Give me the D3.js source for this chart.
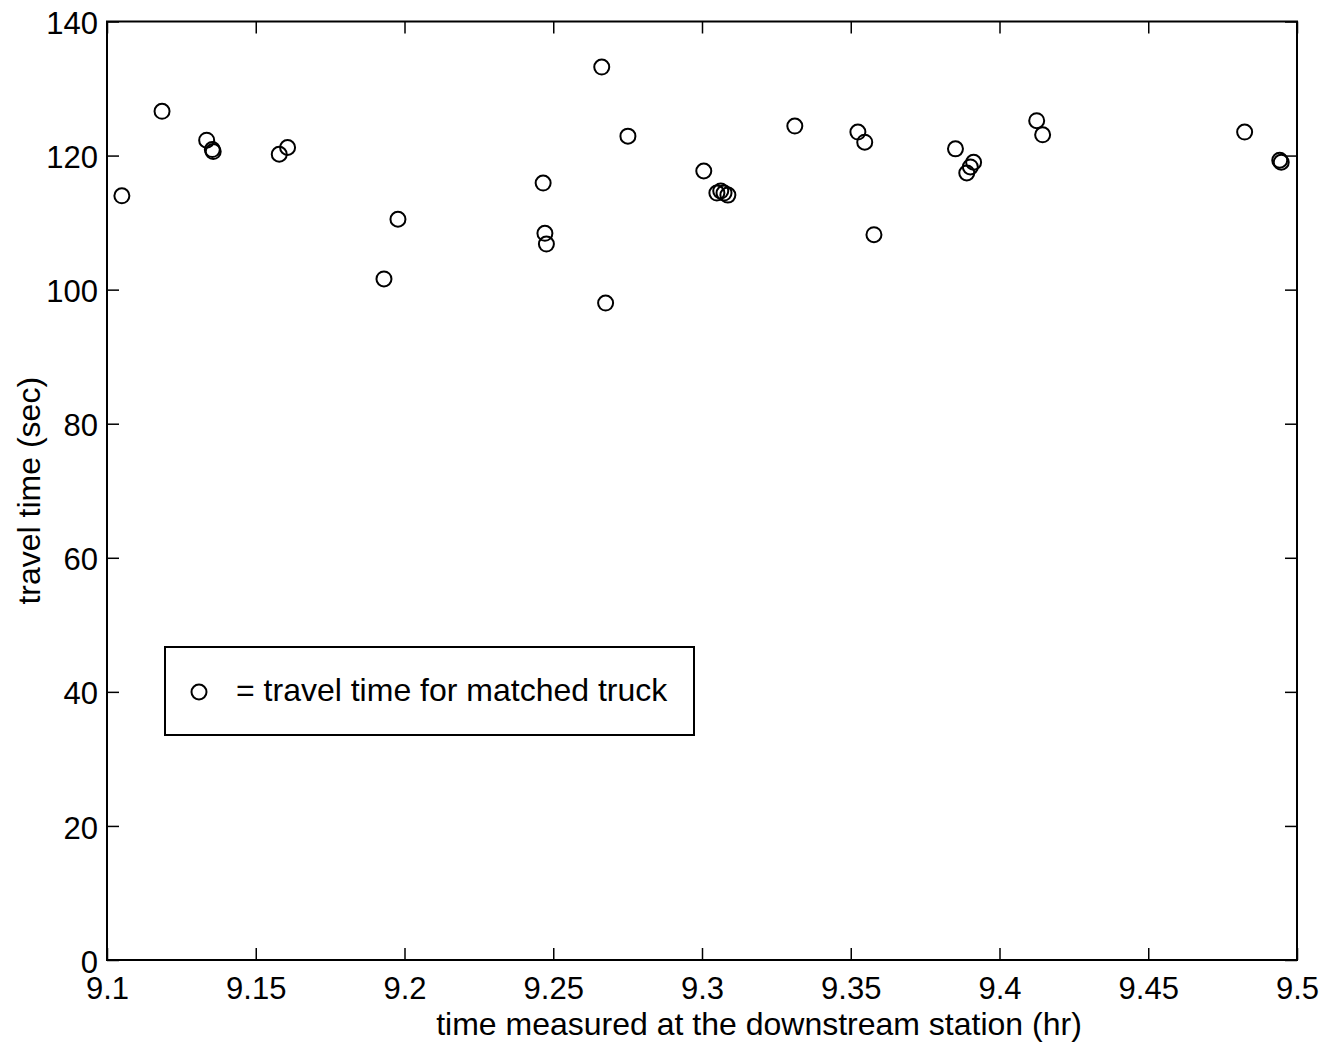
<!DOCTYPE html>
<html>
<head>
<meta charset="utf-8">
<script src="https://cdn.jsdelivr.net/npm/d3@7/dist/d3.min.js"></script>
<style>
  html, body { margin: 0; padding: 0; background: #fff; }
  svg { display: block; }
  text { font-family: "Liberation Sans", Arial, Helvetica, sans-serif; fill: #000; }
</style>
</head>
<body>
<svg id="chart" width="1334" height="1044"></svg>
<script>
const timeHr = [9.1050, 9.1185, 9.1335, 9.1354, 9.1357, 9.1579, 9.1607, 9.1931, 9.1978,
  9.2466, 9.2472, 9.2477, 9.2663, 9.2676, 9.2751, 9.3006, 9.3050, 9.3063, 9.3074, 9.3087,
  9.3312, 9.3524, 9.3547, 9.3578, 9.3852, 9.3890, 9.3902, 9.3913, 9.4125, 9.4145,
  9.4824, 9.4942, 9.4947];
const travelSec = [114.0, 126.6, 122.3, 120.9, 120.6, 120.2, 121.2, 101.6, 110.5,
  115.9, 108.4, 106.8, 133.2, 98.0, 122.9, 117.7, 114.4, 114.7, 114.4, 114.1,
  124.4, 123.5, 122.0, 108.2, 121.0, 117.4, 118.3, 119.0, 125.2, 123.1,
  123.5, 119.3, 119.0];
const xTicks = [9.1, 9.15, 9.2, 9.25, 9.3, 9.35, 9.4, 9.45, 9.5];
const xTickLabels = ["9.1", "9.15", "9.2", "9.25", "9.3", "9.35", "9.4", "9.45", "9.5"];
const yTicks = [0, 20, 40, 60, 80, 100, 120, 140];
const yTickLabels = ["0", "20", "40", "60", "80", "100", "120", "140"];
const xLabel = "time measured at the downstream station (hr)";
const yLabel = "travel time (sec)";
const legendLabel = "= travel time for matched truck";

const svg = d3.select("#chart");
const L = 107, R = 1297, T = 21.5, B = 960;
const x = d3.scaleLinear().domain([9.1, 9.5]).range([L, R]);
const y = d3.scaleLinear().domain([0, 140]).range([B, T]);
const tickLen = 12;
const tickFont = 31;
const labelFont = 32;

// frame
svg.append("rect").attr("x", L).attr("y", T).attr("width", R - L).attr("height", B - T)
  .attr("fill", "none").attr("stroke", "#000").attr("stroke-width", 2);

// axes (inward ticks)
const gx = svg.append("g").attr("transform", `translate(0,${B})`)
  .call(d3.axisBottom(x).tickValues(xTicks).tickFormat((d, i) => xTickLabels[i])
    .tickSizeInner(-tickLen).tickSizeOuter(0).tickPadding(17));
const gxTop = svg.append("g").attr("transform", `translate(0,${T})`)
  .call(d3.axisTop(x).tickValues(xTicks).tickFormat("").tickSizeInner(-tickLen).tickSizeOuter(0));
const gy = svg.append("g").attr("transform", `translate(${L},0)`)
  .call(d3.axisLeft(y).tickValues(yTicks).tickFormat((d, i) => yTickLabels[i])
    .tickSizeInner(-tickLen).tickSizeOuter(0).tickPadding(9));
const gyR = svg.append("g").attr("transform", `translate(${R},0)`)
  .call(d3.axisRight(y).tickValues(yTicks).tickFormat("").tickSizeInner(-tickLen).tickSizeOuter(0));

[gx, gxTop, gy, gyR].forEach(g => {
  g.select(".domain").remove();
  g.selectAll(".tick line").attr("stroke", "#000").attr("stroke-width", 1.5);
  g.selectAll("text").attr("font-size", tickFont).attr("fill", "#000")
    .attr("font-family", '"Liberation Sans", Arial, sans-serif');
});
gy.selectAll(".tick text").attr("dy", "0.39em");

// axis labels
svg.append("text").attr("x", 759).attr("y", 1035).attr("text-anchor", "middle")
  .attr("font-size", labelFont).text(xLabel);
svg.append("text").attr("transform", `translate(40,${(T + B) / 2}) rotate(-90)`)
  .attr("text-anchor", "middle").attr("font-size", labelFont).text(yLabel);

// points
svg.append("g").selectAll("circle").data(timeHr).join("circle")
  .attr("cx", d => x(d)).attr("cy", (d, i) => y(travelSec[i])).attr("r", 7.5)
  .attr("fill", "none").attr("stroke", "#000").attr("stroke-width", 2);

// legend
const lg = svg.append("g");
lg.append("rect").attr("x", 165).attr("y", 647).attr("width", 529).attr("height", 88)
  .attr("fill", "#fff").attr("stroke", "#000").attr("stroke-width", 2);
lg.append("circle").attr("cx", 199).attr("cy", 692).attr("r", 7.5)
  .attr("fill", "none").attr("stroke", "#000").attr("stroke-width", 2);
lg.append("text").attr("x", 236).attr("y", 701).attr("font-size", labelFont).text(legendLabel);
</script>
</body>
</html>
